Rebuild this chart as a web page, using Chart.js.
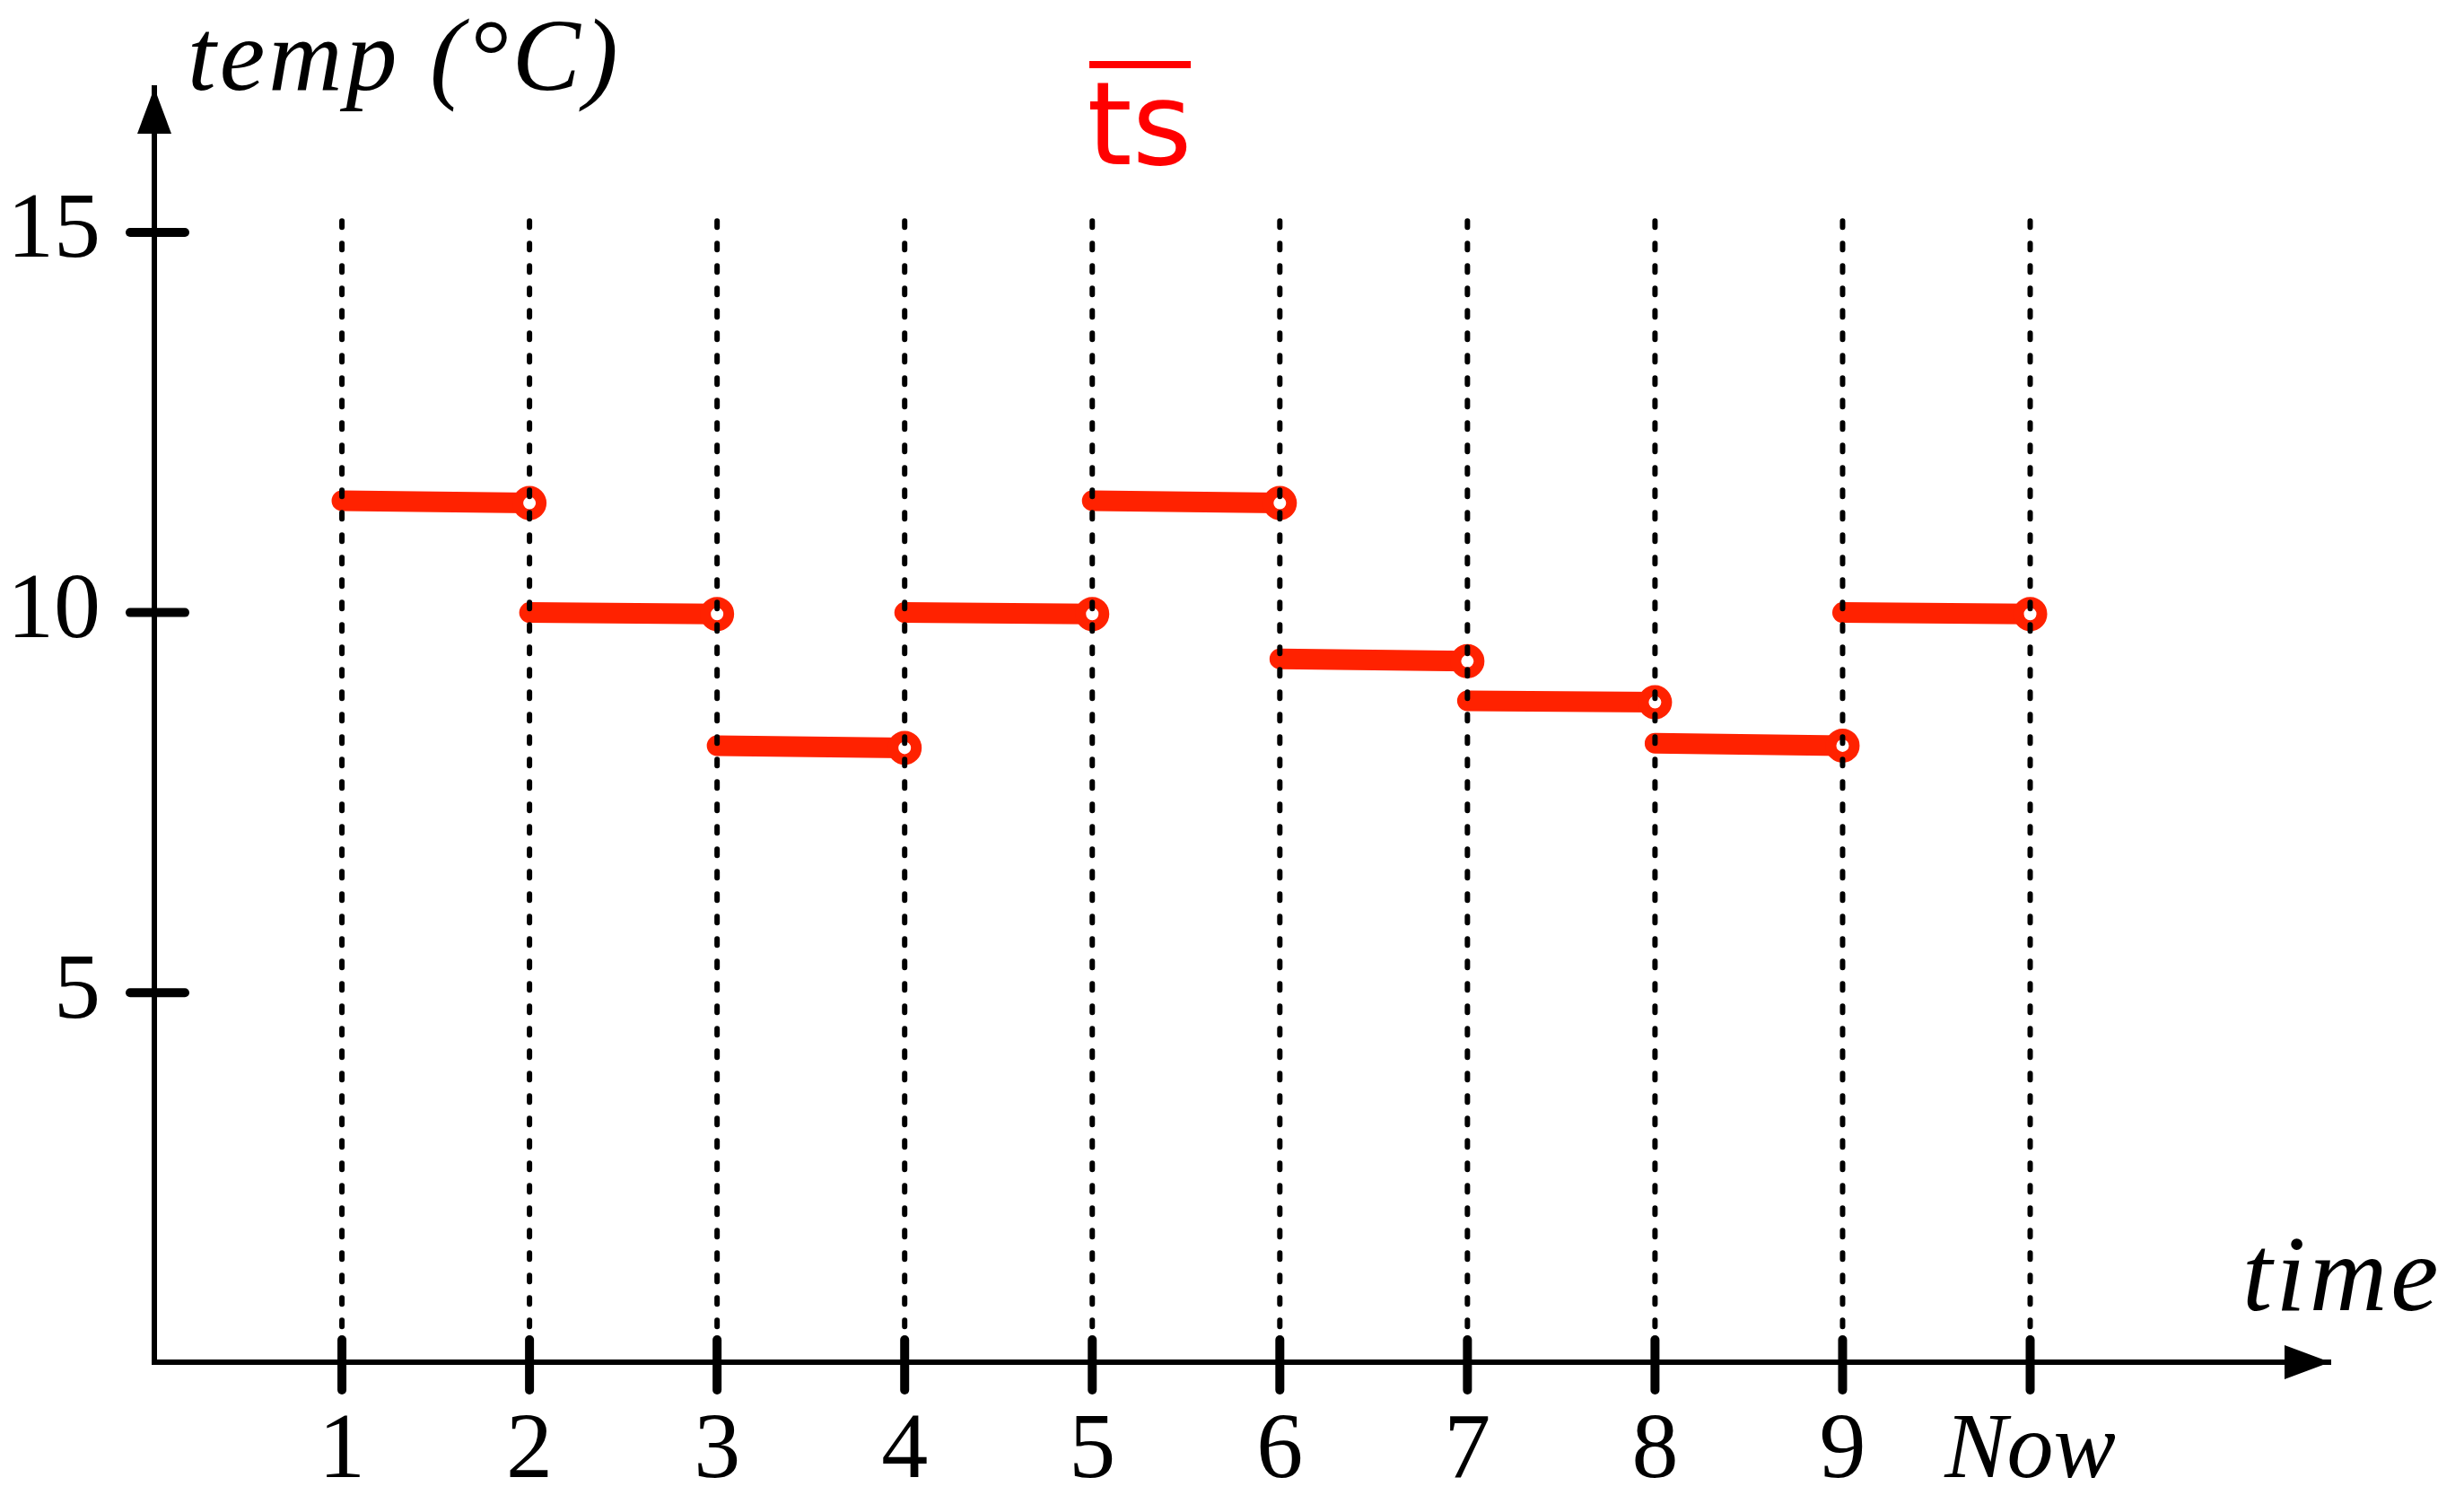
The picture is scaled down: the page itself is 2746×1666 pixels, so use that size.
<!DOCTYPE html>
<html>
<head>
<meta charset="utf-8">
<script src="https://cdn.jsdelivr.net/npm/chart.js@4"></script>
<style>
  html, body { margin: 0; padding: 0; background: #fff; }
  #wrap { width: 2746px; height: 1666px; }
</style>
</head>
<body>
<div id="wrap"><canvas id="chart" width="2746" height="1666"></canvas></div>
<script>
// step values: each interval i -> i+1 has a start and an (open) end value
const steps = [1, 2, 3, 4, 5, 6, 7, 8, 9];
const startTemps = [11.47, 10.0, 8.25, 10.0, 11.47, 9.39, 8.84, 8.28, 10.0];
const endTemps = [11.44, 9.98, 8.22, 9.98, 11.44, 9.36, 8.82, 8.25, 9.98];

const xTicks = [1, 2, 3, 4, 5, 6, 7, 8, 9, 10];
const xLabels = ["1", "2", "3", "4", "5", "6", "7", "8", "9", "Now"];
const yTicks = [5, 10, 15];

const red = "#ff2200";
const serif = '"Liberation Serif", serif';

const datasets = steps.map((s, i) => ({
  data: [
    { x: s, y: startTemps[i] },
    { x: s + 1, y: endTemps[i] },
  ],
  borderColor: red,
  borderWidth: 23,
  borderCapStyle: "round",
  pointRadius: (ctx) => (ctx.dataIndex === 1 ? 13 : 0),
  pointHoverRadius: (ctx) => (ctx.dataIndex === 1 ? 13 : 0),
  pointBorderWidth: 12,
  pointBorderColor: red,
  pointBackgroundColor: "#fff",
  tension: 0,
}));

// dotted guides, drawn over the steps
const guides = {
  id: "guides",
  afterDatasetsDraw(chart) {
    const { ctx, scales } = chart;
    const top = scales.y.getPixelForValue(15.15);
    const bottom = chart.chartArea.bottom;
    ctx.save();
    ctx.strokeStyle = "#000";
    ctx.lineWidth = 6;
    ctx.lineCap = "round";
    ctx.setLineDash([7, 18]);
    xTicks.forEach((v) => {
      const x = scales.x.getPixelForValue(v);
      ctx.beginPath();
      ctx.moveTo(x, top);
      ctx.lineTo(x, bottom);
      ctx.stroke();
    });
    ctx.restore();
  },
};

// arrows, crossing tick marks, axis titles, overlined title
const decor = {
  id: "decor",
  afterDraw(chart) {
    const { ctx, scales, chartArea } = chart;
    const ax = chartArea.left;
    const ay = chartArea.bottom;
    ctx.save();
    ctx.fillStyle = "#000";
    ctx.strokeStyle = "#000";

    // arrow heads
    ctx.beginPath();
    ctx.moveTo(chartArea.right, ay);
    ctx.lineTo(chartArea.right - 51, ay - 19);
    ctx.lineTo(chartArea.right - 51, ay + 19);
    ctx.closePath();
    ctx.fill();
    ctx.beginPath();
    ctx.moveTo(ax, chartArea.top);
    ctx.lineTo(ax - 19, chartArea.top + 51);
    ctx.lineTo(ax + 19, chartArea.top + 51);
    ctx.closePath();
    ctx.fill();

    // tick marks
    ctx.lineWidth = 10;
    ctx.lineCap = "round";
    xTicks.forEach((v) => {
      const x = scales.x.getPixelForValue(v);
      ctx.beginPath();
      ctx.moveTo(x, ay - 25);
      ctx.lineTo(x, ay + 31);
      ctx.stroke();
    });
    yTicks.forEach((v) => {
      const y = scales.y.getPixelForValue(v);
      ctx.beginPath();
      ctx.moveTo(ax - 27, y);
      ctx.lineTo(ax + 34, y);
      ctx.stroke();
    });

    // axis titles
    ctx.font = "italic 114px " + serif;
    ctx.letterSpacing = "4px";
    ctx.textBaseline = "alphabetic";
    ctx.textAlign = "left";
    ctx.fillText("temp (°C)", 209, 100);
    ctx.font = "italic 120px " + serif;
    ctx.fillText("time", 2499, 1460);

    // title with overline
    ctx.letterSpacing = "0px";
    ctx.fillStyle = "#ff0000";
    ctx.font = '128px "DejaVu Sans", sans-serif';
    ctx.textAlign = "center";
    ctx.fillText("ts", 1270, 183);
    ctx.fillRect(1214, 68, 113, 8);
    ctx.restore();
  },
};

window.addEventListener("load", () => {
  const canvas = document.getElementById("chart");
  new Chart(canvas, {
    type: "line",
    data: { datasets: datasets },
    options: {
      responsive: false,
      animation: false,
      devicePixelRatio: 1,
      layout: { padding: { top: 98, right: 149, left: 0, bottom: 0 } },
      scales: {
        x: {
          type: "linear",
          min: 0,
          max: 11.6,
          afterBuildTicks: (scale) => {
            scale.ticks = xTicks.map((v) => ({ value: v }));
          },
          afterFit: (scale) => {
            scale.height = 148;
            scale.paddingLeft = 0;
            scale.paddingRight = 0;
          },
          grid: { display: false, drawTicks: false },
          border: { display: true, color: "#000", width: 6 },
          ticks: {
            padding: 38,
            color: "#000",
            maxRotation: 0,
            autoSkip: false,
            callback: (v) => xLabels[xTicks.indexOf(v)],
            font: (ctx) => ({
              family: serif,
              size: 104,
              style: ctx.tick && ctx.tick.value === 10 ? "italic" : "normal",
            }),
          },
        },
        y: {
          type: "linear",
          min: 0.14,
          max: 16.9,
          afterBuildTicks: (scale) => {
            scale.ticks = yTicks.map((v) => ({ value: v }));
          },
          afterFit: (scale) => {
            scale.width = 172;
            scale.paddingTop = 0;
            scale.paddingBottom = 0;
          },
          grid: { display: false, drawTicks: false },
          border: { display: true, color: "#000", width: 6 },
          ticks: {
            padding: 60,
            color: "#000",
            font: { family: serif, size: 104 },
          },
        },
      },
      plugins: {
        legend: { display: false },
        title: { display: false },
        tooltip: { enabled: false },
      },
    },
    plugins: [guides, decor],
  });
});
</script>
</body>
</html>
